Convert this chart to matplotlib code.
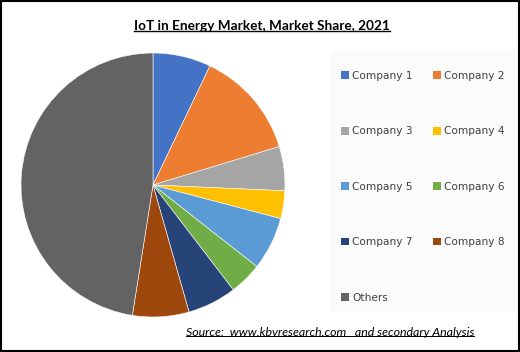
import matplotlib.pyplot as plt
from matplotlib.lines import Line2D
from matplotlib.patches import Rectangle

# market share values (%)
companies = ['Company 1', 'Company 2', 'Company 3', 'Company 4', 'Company 5',
             'Company 6', 'Company 7', 'Company 8', 'Others']
shares = [7.1, 13.2, 5.4, 3.4, 6.5, 4.0, 6.0, 6.9, 47.5]
colors = ['#4472C4', '#ED7D31', '#A5A5A5', '#FFC000', '#5B9BD5',
          '#70AD47', '#264478', '#9E480E', '#636363']

W, H = 520, 352
fig = plt.figure(figsize=(W / 100, H / 100), dpi=100)
fig.patch.set_facecolor('white')

# black frame round the picture
fig.add_artist(Rectangle((0.002, 0.003), 0.996, 0.994, transform=fig.transFigure,
                         fill=False, edgecolor='black', linewidth=1.5))

# light legend area
fig.add_artist(Rectangle((330 / W, 1 - 312 / H), 185 / W, 262 / H, transform=fig.transFigure,
                         facecolor='#FBFBFB', edgecolor='none', zorder=0))

cx, cy, r = 153, H - 185, 132
ax = fig.add_axes([(cx - r) / W, (cy - r) / H, 2 * r / W, 2 * r / H])
wedges, _ = ax.pie(shares, colors=colors, startangle=90, counterclock=False,
                   radius=1, wedgeprops=dict(edgecolor='white', linewidth=0.4))
ax.set_xlim(-1, 1)
ax.set_ylim(-1, 1)
ax.set_aspect('equal')
ax.axis('off')

# legend filled row by row
order = [0, 2, 4, 6, 8, 1, 3, 5, 7]
leg = fig.legend([wedges[i] for i in order], [companies[i] for i in order],
                 ncol=2, loc='upper left', bbox_to_anchor=(341 / W, 1 - 71 / H),
                 frameon=False, fontsize=7.6, handlelength=0.75, handleheight=0.75,
                 handletextpad=0.3, labelspacing=4.3, columnspacing=1.9,
                 borderpad=0, borderaxespad=0)
for t in leg.get_texts():
    t.set_color('#404040')
for h in leg.legend_handles:
    h.set_edgecolor('none')

title = fig.text(262 / W, 1 - 26 / H, 'IoT in Energy Market, Market Share, 2021',
                 ha='center', va='center', fontsize=9.8, fontweight='bold',
                 family='Lato', color='black')
src = fig.text(330 / W, 1 - 332 / H, 'Source:  www.kbvresearch.com   and secondary Analysis',
               ha='center', va='center', fontsize=8.9, style='italic',
               family='Lato', color='black')

# underline the two texts
fig.canvas.draw()
inv = fig.transFigure.inverted()
for t, lw in [(title, 1.0), (src, 0.7)]:
    bb = t.get_window_extent()
    (x0, y0), (x1, y1) = inv.transform([(bb.x0, bb.y0), (bb.x1, bb.y1)])
    fig.add_artist(Line2D([x0, x1], [y0 + 0.004, y0 + 0.004], transform=fig.transFigure,
                          color='black', linewidth=lw))

fig.savefig('out.png', dpi=100)
